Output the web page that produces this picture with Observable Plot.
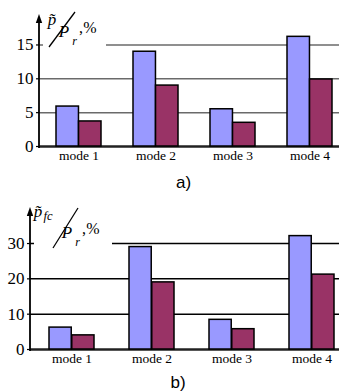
<!DOCTYPE html>
<html>
<head>
<meta charset="utf-8">
<script src="https://cdn.jsdelivr.net/npm/d3@7"></script>
<script src="https://cdn.jsdelivr.net/npm/@observablehq/plot@0.6"></script>
<style>
  html, body { margin: 0; padding: 0; background: #fff; overflow: hidden; width: 339px; height: 392px; }
  .cap { font-family: "Liberation Sans", Arial, sans-serif; font-size: 17px; text-align: center; height: 30px; line-height: 30px; color: #000; }
  svg { overflow: hidden; display: block; }
</style>
</head>
<body>
<div id="a"></div>
<div class="cap" id="capA" style="padding-left:28px">a)</div>
<div id="b"></div>
<div class="cap" id="capB" style="padding-left:17px;height:24px;line-height:26px">b)</div>
<script>
const modes = ["mode 1", "mode 2", "mode 3", "mode 4"];
const aBlue = [5.9, 14.0, 5.5, 16.2];
const aPurple = [3.7, 9.0, 3.5, 9.9];
const bBlue = [6.2, 29.0, 8.4, 32.1];
const bPurple = [4.0, 19.0, 5.75, 21.2];
const aTicks = [0, 5, 10, 15];
const bTicks = [0, 10, 20, 30];
const colors = ["#9999ff", "#993366"];
const SERIF = "Liberation Serif";

function table(blue, purple) {
  return {
    blue: modes.map((m, i) => ({mode: m, value: blue[i]})),
    purple: modes.map((m, i) => ({mode: m, value: purple[i]}))
  };
}

function draw(cfg) {
  const {blue, purple} = table(cfg.blue, cfg.purple);
  const step = (cfg.xr[1] - cfg.xr[0]) / modes.length;
  const half = step * (1 - cfg.pad) / 2;
  const chart = Plot.plot({
    width: 339,
    height: cfg.height,
    marginLeft: cfg.ml,
    marginRight: 0,
    marginTop: cfg.mt,
    marginBottom: cfg.mb,
    style: {fontFamily: SERIF, fontSize: "16px", background: "white", color: "#000"},
    x: {type: "band", domain: modes, range: cfg.xr, paddingInner: cfg.pad, paddingOuter: cfg.pad / 2},
    y: {domain: [0, cfg.ytop], range: [cfg.height - cfg.mb, cfg.mt]},
    marks: [
      Plot.ruleY(cfg.ticks.slice(1), {stroke: cfg.grid, strokeWidth: 1.5}),
      Plot.ruleY([0], {stroke: "#222", strokeWidth: 2.5}),
      Plot.barY(blue, {x: "mode", y: "value", fill: colors[0], stroke: "#000", strokeWidth: 1.5, insetRight: half}),
      Plot.barY(purple, {x: "mode", y: "value", fill: colors[1], stroke: "#000", strokeWidth: 1.5, insetLeft: half}),
      Plot.axisY({ticks: cfg.ticks, tickSize: 3, tickPadding: 3, fontSize: 17, fontFamily: SERIF, label: null, stroke: "#000", strokeWidth: 1.2}),
      Plot.axisX({tickSize: 0, tickPadding: 4, fontSize: 13.5, fontFamily: SERIF, label: null})
    ]
  });
  const svg = d3.select(chart);
  const y0 = chart.scale("y").apply(0);
  const ml = cfg.ml, mt = cfg.mt;
  // y axis line with arrow
  svg.append("line").attr("x1", ml).attr("x2", ml).attr("y1", y0 + 2).attr("y2", mt + 6)
    .attr("stroke", "#000").attr("stroke-width", 1.8);
  svg.append("path").attr("d", `M${ml},${mt} L${ml - 3.2},${mt + 9} L${ml + 3.2},${mt + 9} Z`).attr("fill", "#000");
  // y label with white box
  const L = cfg.label;
  svg.append("rect").attr("x", ml + 4).attr("y", 0).attr("width", L.boxW).attr("height", L.boxH).attr("fill", "white");
  const g = svg.append("g").attr("font-family", SERIF).attr("fill", "#000");
  const t1 = g.append("text").attr("x", L.px).attr("y", L.py).attr("font-size", 17).attr("font-style", "italic");
  t1.append("tspan").text("p\u0303");
  if (L.sub) t1.append("tspan").attr("x", L.px + 10).attr("y", L.py + 3).attr("font-size", 12.5).text(L.sub);
  g.append("line").attr("x1", L.s[0]).attr("y1", L.s[1]).attr("x2", L.s[2]).attr("y2", L.s[3]).attr("stroke", "#000").attr("stroke-width", 1.3);
  const t2 = g.append("text").attr("x", L.Px).attr("y", L.Py).attr("font-size", 17).attr("font-style", "italic");
  t2.append("tspan").text("P");
  t2.append("tspan").attr("x", L.Px + 10.5).attr("y", L.Py + 8).attr("font-size", 12).text("r");
  t2.append("tspan").attr("x", L.Px + 17).attr("y", L.Py - 4).attr("font-size", 16).attr("font-style", "normal").text(",");
  t2.append("tspan").attr("x", L.Px + 26).attr("y", L.Py - 4).attr("font-size", 16).attr("font-style", "normal").text("%");
  return chart;
}

document.getElementById("a").appendChild(draw({
  blue: aBlue, purple: aPurple, ticks: aTicks, height: 168, ml: 39, mt: 14, mb: 22, ytop: 19.5,
  xr: [38.65, 349.45], pad: 0.42, grid: "#6a6a6a",
  label: {boxW: 63, boxH: 50, px: 52, py: 25, s: [49, 47, 75, 12], Px: 64, Py: 37, sub: null}
}));
document.getElementById("b").appendChild(draw({
  blue: bBlue, purple: bPurple, ticks: bTicks, height: 172, ml: 30, mt: 9, mb: 21, ytop: 40.2,
  xr: [30.77, 353.2], pad: 0.435, grid: "#000",
  label: {boxW: 78, boxH: 52, px: 38, py: 19, s: [53, 50, 78, 10], Px: 67, Py: 40, sub: "fc"}
}));
</script>
</body>
</html>
